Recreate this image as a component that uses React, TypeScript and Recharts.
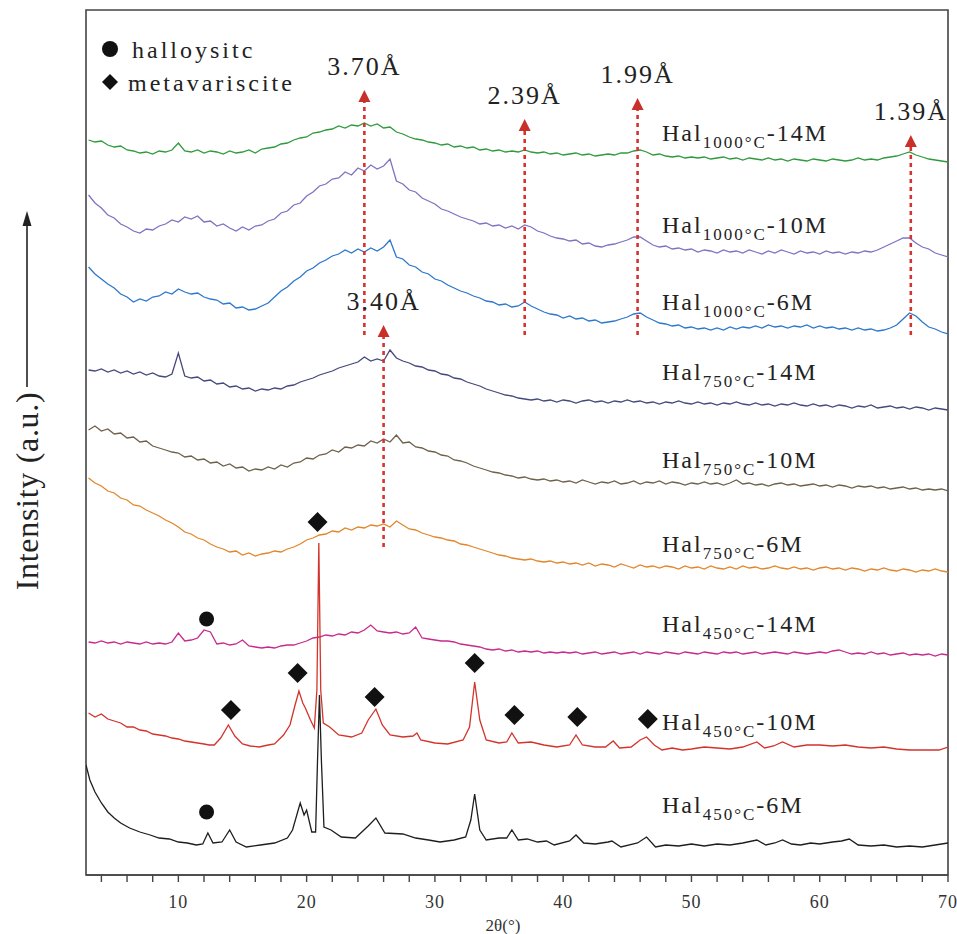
import React from 'react';
import { ComposedChart, Line, Scatter, XAxis, YAxis, ReferenceLine, ReferenceDot, ReferenceArea } from 'recharts';

const SERIF = "'Liberation Serif', 'Times New Roman', serif";

// 2θ sampling grid (3°–70°, 0.5° step) used by the amorphous patterns
const TWO_THETA = Array.from({ length: 135 }, (_, i) => 3 + i * 0.5);

const X_TICKS = [4, 6, 8, 10, 12, 14, 16, 18, 20, 22, 24, 26, 28, 30, 32, 34, 36, 38, 40, 42, 44, 46, 48, 50, 52, 54, 56, 58, 60, 62, 64, 66, 68, 70];

// stacked intensities (a.u., offsets included), one value per grid point
const HAL1000_14M = [
  735, 733, 734, 730, 728, 729, 725, 724, 722, 723,
  721, 724, 723, 725, 732, 724, 723, 725, 722, 724,
  723, 721, 724, 722, 723, 725, 722, 726, 727, 728,
  731, 732, 735, 737, 738, 742, 743, 745, 746, 749,
  747, 750, 749, 752, 749, 751, 747, 748, 743, 741,
  738, 736, 735, 733, 732, 730, 731, 728, 729, 727,
  728, 725, 726, 724, 725, 723, 724, 723, 725, 723,
  722, 723, 721, 722, 720, 721, 722, 720, 721, 719,
  720, 721, 720, 722, 722, 724, 725, 723, 720, 721,
  719, 718, 719, 717, 718, 717, 718, 716, 717, 718,
  716, 717, 715, 717, 716, 715, 717, 715, 716, 714,
  716, 715, 714, 716, 715, 714, 716, 715, 714, 715,
  717, 715, 716, 715, 717, 718, 719, 721, 723, 720,
  718, 716, 715, 714, 713,
];

const HAL1000_10M = [
  680, 672, 667, 660, 657, 651, 648, 644, 642, 646,
  645, 649, 651, 655, 653, 658, 656, 659, 653, 654,
  649, 651, 647, 644, 648, 645, 649, 650, 654, 656,
  662, 664, 670, 672, 679, 683, 689, 691, 696, 697,
  703, 700, 707, 704, 710, 706, 709, 716, 694, 691,
  685, 683, 677, 674, 671, 666, 664, 661, 658, 656,
  654, 651, 652, 649, 650, 647, 649, 646, 650, 648,
  644, 642, 639, 637, 636, 634, 635, 631, 632, 629,
  628, 630, 631, 633, 635, 638, 638, 634, 630, 628,
  629, 626, 627, 625, 626, 623, 625, 624, 622, 625,
  623, 624, 622, 625, 623, 621, 624, 622, 625, 623,
  621, 624, 622, 623, 621, 624, 622, 623, 621, 623,
  622, 624, 623, 625, 628, 631, 634, 637, 637, 632,
  628, 626, 622, 620, 618,
];

const HAL1000_6M = [
  608, 601, 596, 591, 587, 581, 578, 573, 576, 574,
  578, 579, 583, 581, 586, 583, 581, 582, 578, 576,
  575, 571, 572, 567, 568, 565, 566, 569, 572, 578,
  584, 588, 594, 598, 604, 607, 612, 615, 619, 621,
  625, 622, 626, 623, 627, 624, 628, 635, 618, 616,
  610, 608, 603, 601, 596, 594, 590, 587, 584, 582,
  579, 577, 574, 573, 570, 571, 568, 569, 573, 569,
  566, 563, 561, 560, 557, 559, 556, 557, 554, 555,
  552, 553, 554, 556, 558, 561, 562, 558, 555, 552,
  551, 549, 550, 547, 548, 546, 547, 545, 547, 545,
  548, 546, 548, 547, 549, 547, 550, 548, 549, 547,
  549, 548, 550, 547, 549, 547, 548, 546, 547, 545,
  547, 545, 546, 544, 545, 547, 550, 556, 562, 559,
  553, 548, 546, 543, 541,
];

const HAL750_14M = [
  505, 504, 506, 503, 505, 502, 504, 501, 503, 500,
  502, 499, 498, 501, 522, 499, 497, 498, 494, 495,
  491, 492, 488, 489, 486, 487, 484, 486, 485, 487,
  486, 489, 490, 493, 495, 497, 500, 502, 504, 507,
  509, 511, 513, 518, 514, 516, 514, 525, 517, 514,
  512, 509, 508, 505, 504, 501, 500, 497, 496, 493,
  491, 489, 486, 484, 482, 480, 479, 477, 476, 475,
  476, 474, 475, 473, 475, 474, 472, 474, 475, 473,
  474, 472, 474, 473, 475, 473, 474, 472, 473, 471,
  473, 472, 474, 472, 471, 473, 471, 472, 470, 472,
  471, 473, 471, 470, 472, 470, 471, 469, 471, 470,
  472, 470, 469, 471, 469, 470, 468, 470, 469, 467,
  469, 468, 470, 467, 468, 469, 467, 468, 466, 468,
  467, 465, 467, 466, 465,
];

const HAL750_10M = [
  445, 449, 444, 446, 441, 442, 437, 438, 433, 434,
  429, 427, 425, 423, 422, 418, 419, 415, 416, 412,
  413, 409, 411, 407, 408, 404, 406, 405, 408, 406,
  410, 408, 412, 413, 417, 416, 420, 421, 425, 423,
  428, 427, 430, 429, 434, 432, 436, 433, 440, 432,
  433, 428, 427, 424, 423, 420, 419, 415, 414, 412,
  409, 407, 405, 403, 402, 400, 399, 397, 398, 396,
  395, 396, 394, 395, 393, 394, 392, 395, 393, 391,
  393, 392, 394, 391, 392, 394, 391, 393, 392, 394,
  391, 393, 392, 390, 392, 391, 393, 391, 392, 390,
  392, 395, 391, 392, 390, 391, 389, 391, 392, 390,
  391, 389, 390, 391, 389, 390, 388, 390, 389, 387,
  389, 388, 389, 387, 388, 386, 387, 388, 386, 387,
  385, 386, 385, 386, 384,
];

const HAL750_6M = [
  397, 392, 389, 384, 382, 377, 375, 370, 369, 365,
  362, 359, 355, 352, 348, 343, 341, 337, 335, 331,
  328, 326, 323, 324, 320, 322, 319, 321, 322, 324,
  323, 326, 328, 331, 335, 337, 340, 341, 344, 343,
  347, 345, 348, 347, 350, 349, 351, 348, 354, 350,
  346, 345, 342, 340, 338, 337, 335, 334, 331, 330,
  328, 326, 324, 322, 320, 319, 317, 316, 315, 316,
  314, 313, 314, 312, 313, 311, 312, 310, 312, 309,
  311, 310, 308, 311, 309, 307, 310, 308, 309, 307,
  309, 308, 306, 309, 307, 308, 306, 309, 307, 306,
  308, 306, 309, 307, 308, 306, 307, 309, 307, 306,
  308, 306, 307, 305, 307, 308, 306, 307, 305, 307,
  306, 304, 306, 305, 307, 305, 304, 306, 305, 303,
  305, 304, 306, 304, 303,
];

const HAL450_14M = [
  233, 232, 234, 232, 233, 231, 233, 232, 231, 233,
  231, 232, 231, 233, 242, 234, 235, 237, 245, 243,
  231, 232, 230, 231, 235, 229, 228, 227, 228, 227,
  229, 230, 230, 232, 234, 237, 238, 240, 239, 241,
  240, 243, 242, 245, 250, 244, 243, 242, 243, 241,
  242, 248, 237, 236, 235, 234, 234, 233, 231, 230,
  229, 228, 226, 225, 226, 224, 225, 223, 224, 223,
  224, 222, 223, 222, 223, 222, 223, 221, 222, 223,
  221, 222, 223, 221, 222, 223, 221, 223, 222, 221,
  223, 222, 221, 223, 222, 221, 223, 222, 221, 223,
  222, 223, 221, 222, 223, 221, 222, 223, 222, 221,
  223, 222, 221, 222, 223, 222, 224, 225, 223, 221,
  222, 221, 223, 221, 222, 220, 221, 222, 220, 221,
  220, 221, 219, 221, 220,
];

// crystalline patterns: [2θ, intensity] pairs, denser around the reflections
const HAL450_10M: [number, number][] = [
  [3, 162], [3.5, 158], [4, 161], [4.5, 156], [5, 154], [5.5, 152], [6, 148], [6.5, 148], [7, 145], [7.5, 144],
  [8, 141], [8.5, 140], [9, 139], [9.5, 137], [10, 136], [10.5, 134], [11, 133], [11.5, 132], [12, 131], [12.4, 130],
  [12.8, 130], [13.3, 137], [13.9, 150], [14.4, 139], [15, 131], [15.6, 129], [16.3, 128], [17, 130], [17.5, 131], [18.2, 140],
  [18.7, 150], [19.1, 170], [19.4, 184], [19.7, 172], [19.9, 167], [20.3, 155], [20.6, 147], [20.8, 185], [20.95, 332], [21.1, 185],
  [21.3, 152], [21.8, 148], [22.5, 140], [23.5, 138], [24.3, 142], [24.8, 155], [25.4, 166], [25.9, 150], [26.5, 140], [27.5, 138],
  [28.3, 139], [28.6, 142], [28.9, 135], [30, 132], [31, 131], [32.2, 135], [32.7, 148], [33.1, 193], [33.5, 155], [34, 135],
  [35, 132], [35.6, 133], [36, 142], [36.5, 132], [37.5, 133], [38.5, 130], [39.5, 128], [40.5, 130], [41, 140], [41.5, 130],
  [42.5, 128], [43.3, 128], [43.9, 134], [44.4, 127], [45.3, 128], [46, 135], [46.5, 138], [47.1, 130], [47.7, 125], [48.5, 127],
  [49.3, 125], [50, 126], [51, 128], [52, 127], [53, 126], [54, 128], [55.1, 133], [55.7, 127], [56.4, 129], [57.1, 133],
  [58, 128], [59, 130], [60, 130], [61, 129], [62, 130], [63, 128], [64, 127], [65, 128], [66, 126], [67, 125],
  [68, 125], [69.3, 125], [70, 128],
];

const HAL450_6M: [number, number][] = [
  [2.8, 110], [3.1, 95], [3.5, 83], [4, 72], [4.5, 63], [5, 57], [5.5, 52], [6.2, 47], [7, 43], [7.8, 40],
  [8.5, 37], [9.3, 36], [10, 33], [10.7, 32], [11.4, 30], [11.9, 31], [12.3, 42], [12.7, 32], [13.4, 33], [14, 45],
  [14.5, 33], [15.3, 28], [16.4, 30], [17.5, 32], [18.5, 37], [18.9, 45], [19.5, 72], [19.8, 60], [20, 65], [20.4, 43],
  [20.7, 43], [20.85, 115], [21, 180], [21.15, 115], [21.35, 48], [21.9, 45], [22.7, 38], [23.8, 37], [24.8, 49], [25.4, 57],
  [26.1, 42], [27.5, 41], [28.5, 37], [29.5, 35], [30.4, 33], [31.5, 35], [32.4, 38], [32.8, 55], [33.1, 81], [33.5, 45],
  [34, 35], [35, 37], [35.6, 37], [36, 45], [36.5, 35], [37.2, 36], [38, 33], [38.7, 34], [39.3, 30], [40.5, 34],
  [41, 40], [41.6, 32], [42.5, 31], [43.5, 33], [43.8, 34], [44.5, 28], [45.8, 32], [46.5, 38], [47.2, 28], [48, 30],
  [49, 29], [50, 31], [51, 29], [52, 31], [53, 30], [54, 32], [55.1, 35], [55.8, 30], [56.5, 32], [57.1, 35],
  [57.8, 31], [58.5, 30], [59.3, 32], [60, 31], [61, 33], [61.7, 34], [62.3, 36], [63, 30], [64, 29], [65, 30],
  [66, 28], [67, 29], [68, 28], [69, 30], [70, 32],
];

const onGrid = (values: number[]) => values.map((y, i) => ({ x: TWO_THETA[i], y }));
const fromPairs = (pairs: [number, number][]) => pairs.map(([x, y]) => ({ x, y }));

const SERIES = [
  { name: 'Hal1000-14M', color: '#2f9a3c', points: onGrid(HAL1000_14M) },
  { name: 'Hal1000-10M', color: '#7c74c2', points: onGrid(HAL1000_10M) },
  { name: 'Hal1000-6M', color: '#2c78cc', points: onGrid(HAL1000_6M) },
  { name: 'Hal750-14M', color: '#45497c', points: onGrid(HAL750_14M) },
  { name: 'Hal750-10M', color: '#6e614b', points: onGrid(HAL750_10M) },
  { name: 'Hal750-6M', color: '#e2862a', points: onGrid(HAL750_6M) },
  { name: 'Hal450-14M', color: '#c82a8c', points: onGrid(HAL450_14M) },
  { name: 'Hal450-10M', color: '#d2332b', points: fromPairs(HAL450_10M) },
  { name: 'Hal450-6M', color: '#1e1e1e', points: fromPairs(HAL450_6M) },
];

// curve captions: temperature subscript and acid concentration
const LABEL_TEMPS = ['1000°C', '1000°C', '1000°C', '750°C', '750°C', '750°C', '450°C', '450°C', '450°C'];
const LABEL_ACID = ['14M', '10M', '6M', '14M', '10M', '6M', '14M', '10M', '6M'];

// phase markers
const HALLOYSITE_PEAKS = [{ x: 12.2, y: 256 }, { x: 12.2, y: 63 }];
const METAVARISCITE_PEAKS = [
  { x: 20.85, y: 353 }, { x: 14.1, y: 165 }, { x: 19.3, y: 202 }, { x: 25.3, y: 178 },
  { x: 33.1, y: 212 }, { x: 36.2, y: 160 }, { x: 41.1, y: 158 }, { x: 46.6, y: 156 },
];

// d-spacing guides
const D_LABELS = ['3.70Å', '2.39Å', '1.99Å', '1.39Å', '3.40Å'];
const D_TWO_THETA = [24.5, 37.0, 45.8, 67.1, 26.0];
const D_TIP = [785, 756, 777, 740, 550];
const D_FOOT = [540, 540, 540, 540, 328];

const AngleTick = (props: any) => {
  const { x, y, payload } = props;
  return (
    <g>
      <line x1={x} y1={y - 7} x2={x} y2={y} stroke="#444" strokeWidth={1.4} />
      {payload.value % 10 === 0 && (
        <text x={x} y={y + 26} textAnchor="middle" fontFamily={SERIF} fontSize={18} letterSpacing={1} fill="#333">
          {payload.value}
        </text>
      )}
    </g>
  );
};

const Diamond = (props: any) => {
  const { cx, cy } = props;
  return <polygon points={`${cx},${cy - 10} ${cx + 10},${cy} ${cx},${cy + 10} ${cx - 10},${cy}`} fill="#111" />;
};

const Dot = (props: any) => <circle cx={props.cx} cy={props.cy} r={7.5} fill="#111" />;

const PeakArrow = ({ cx, cy, label }: { cx: number; cy: number; label: string }) => (
  <g>
    <polygon points={`${cx},${cy} ${cx + 6},${cy + 12} ${cx - 6},${cy + 12}`} fill="#c8302a" />
    <text x={cx} y={cy - 15} textAnchor="middle" fontFamily={SERIF} fontSize={26} letterSpacing={2} fill="#222">
      {label}
    </text>
  </g>
);

const CAPTION_Y = [141, 233, 310, 380, 468, 552, 632, 730, 813];

const App = () => (
  <div style={{ position: 'absolute', left: 0, top: 0, width: 957, height: 934, background: '#fff' }}>
    <ComposedChart width={957} height={934} margin={{ top: 10, right: 9, bottom: 19, left: 86 }}>
      <XAxis
        type="number"
        dataKey="x"
        domain={[2.8, 70]}
        ticks={X_TICKS}
        interval={0}
        allowDataOverflow
        height={40}
        axisLine={{ stroke: '#444', strokeWidth: 1.6 }}
        tickLine={false}
        tickSize={7}
        tickMargin={0}
        tick={<AngleTick />}
      />
      <YAxis type="number" dataKey="y" domain={[0, 865]} allowDataOverflow hide />

      {/* plot frame */}
      <ReferenceArea x1={2.8} x2={70} y1={0} y2={865} fill="none" stroke="#444" strokeWidth={1.6} ifOverflow="visible" />

      {SERIES.map((s) => (
        <Line
          key={s.name}
          data={s.points}
          dataKey="y"
          type="linear"
          stroke={s.color}
          strokeWidth={1.3}
          dot={false}
          activeDot={false}
          isAnimationActive={false}
        />
      ))}

      {D_LABELS.map((label, i) => (
        <ReferenceLine
          key={`guide-${label}`}
          segment={[{ x: D_TWO_THETA[i], y: D_FOOT[i] }, { x: D_TWO_THETA[i], y: D_TIP[i] - 12 }]}
          stroke="#d8322e"
          strokeWidth={2.6}
          strokeDasharray="4 4"
          ifOverflow="visible"
        />
      ))}
      {D_LABELS.map((label, i) => (
        <ReferenceDot
          key={`tip-${label}`}
          x={D_TWO_THETA[i]}
          y={D_TIP[i]}
          r={0}
          ifOverflow="visible"
          shape={(p: any) => <PeakArrow cx={p.cx} cy={p.cy} label={label} />}
        />
      ))}

      <Scatter data={HALLOYSITE_PEAKS} dataKey="y" shape={Dot} isAnimationActive={false} />
      <Scatter data={METAVARISCITE_PEAKS} dataKey="y" shape={Diamond} isAnimationActive={false} />
    </ComposedChart>

    <svg width={957} height={934} style={{ position: 'absolute', left: 0, top: 0, pointerEvents: 'none' }}>
      <g fontFamily={SERIF} fill="#222">
        <circle cx={110} cy={49} r={8} fill="#111" />
        <text x={132} y={58} fontSize={24} letterSpacing={3}>halloysitc</text>
        <polygon points="110,74 118,82 110,90 102,82" fill="#111" />
        <text x={128} y={91} fontSize={24} letterSpacing={3}>metavariscite</text>

        {SERIES.map((s, i) => (
          <text key={`cap-${s.name}`} x={662} y={CAPTION_Y[i]} fontSize={24} letterSpacing={2}>
            Hal
            <tspan fontSize={17} dy={7}>{LABEL_TEMPS[i]}</tspan>
            <tspan dy={-7}>-{LABEL_ACID[i]}</tspan>
          </text>
        ))}

        <text x={0} y={0} transform="translate(38,491) rotate(-90)" textAnchor="middle" fontSize={32} letterSpacing={0.7}>
          Intensity (a.u.)
        </text>
        <line x1={27} y1={387} x2={27} y2={222} stroke="#222" strokeWidth={1.6} />
        <polygon points="27,211 22.5,226 31.5,226" fill="#222" />

        <text x={503} y={931} textAnchor="middle" fontSize={17} fill="#333">2θ(°)</text>
      </g>
    </svg>
  </div>
);

export default App;
